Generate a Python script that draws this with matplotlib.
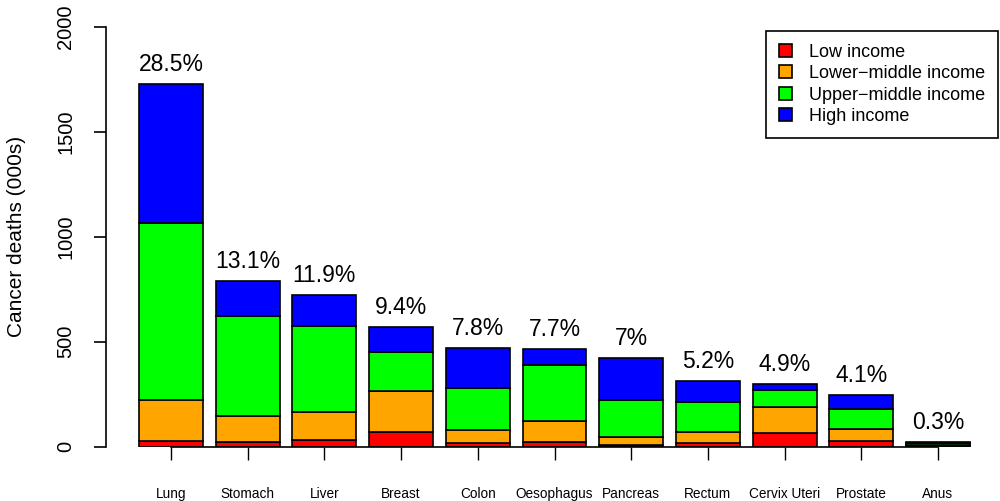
import matplotlib
matplotlib.use("Agg")
import matplotlib.pyplot as plt
import numpy as np

cancers = ["Lung", "Stomach", "Liver", "Breast", "Colon", "Oesophagus",
           "Pancreas", "Rectum", "Cervix Uteri", "Prostate", "Anus"]
low = [27, 21, 30, 68, 15, 21, 7, 17, 63, 26, 4]
lower_mid = [195, 126, 136, 197, 65, 99, 40, 51, 127, 57, 5]
upper_mid = [842, 475, 410, 184, 200, 270, 173, 146, 79, 96, 6]
high = [663, 167, 146, 119, 191, 76, 202, 98, 31, 67, 5]
pct_labels = ["28.5%", "13.1%", "11.9%", "9.4%", "7.8%", "7.7%", "7%",
              "5.2%", "4.9%", "4.1%", "0.3%"]
groups = ["Low income", "Lower\u2212middle income", "Upper\u2212middle income", "High income"]
colors = ["#FF0000", "#FFA500", "#00FF00", "#0000FF"]

plt.rcParams["font.family"] = ["Liberation Sans", "DejaVu Sans"]

fig = plt.figure(figsize=(10, 5.01), dpi=100)
W, H = 1000, 501
x0_px, x1_px = 106, 998
y0_px, y1_px = 446.5, 27
ax = fig.add_axes([x0_px / W, 1 - y0_px / H, (x1_px - x0_px) / W, (y0_px - y1_px) / H])

x = np.arange(len(cancers))
px_per_unit = (938 - 171) / 10
ax.set_xlim((x0_px - 171) / px_per_unit, (x1_px - 171) / px_per_unit)
ax.set_ylim(0, 2000)

bottom = np.zeros(len(cancers))
for vals, col, lab in zip([low, lower_mid, upper_mid, high], colors, groups):
    ax.bar(x, vals, width=0.833, bottom=bottom, color=col, edgecolor="black",
           linewidth=1.2, label=lab)
    bottom += np.array(vals)

# percentage share above each bar
for xi, top, lab in zip(x, bottom, pct_labels):
    ax.annotate(lab, (xi, top), xytext=(0, 14), textcoords="offset points",
                ha="center", va="center", fontsize=16.5, annotation_clip=False)

for s in ["top", "right"]:
    ax.spines[s].set_visible(False)
ax.spines["left"].set_bounds(0, 2000)
ax.spines["bottom"].set_bounds(0, 10)
ax.spines["left"].set_linewidth(1.2)
ax.spines["bottom"].set_linewidth(1.2)

ax.set_yticks([0, 500, 1000, 1500, 2000])
ax.set_yticklabels(["0", "500", "1000", "1500", "2000"], rotation=90, va="center")
ax.tick_params(axis="y", labelsize=14.5, length=9, width=1.2, pad=13)
ax.set_xticks(x)
ax.set_xticklabels(cancers)
ax.tick_params(axis="x", labelsize=9.8, length=9, width=1, pad=20)
ax.set_ylabel("Cancer deaths (000s)", fontsize=15, labelpad=22)

leg = ax.legend(loc="upper right", bbox_to_anchor=(998 / W, 1 - 31 / H),
                bbox_transform=fig.transFigure, fontsize=13, frameon=True,
                fancybox=False, edgecolor="black", framealpha=1,
                handlelength=0.72, handleheight=0.72, handletextpad=0.95,
                labelspacing=0.25, borderpad=0.7, borderaxespad=0)
leg.get_frame().set_linewidth(1.2)

fig.savefig("out.png", dpi=100)
